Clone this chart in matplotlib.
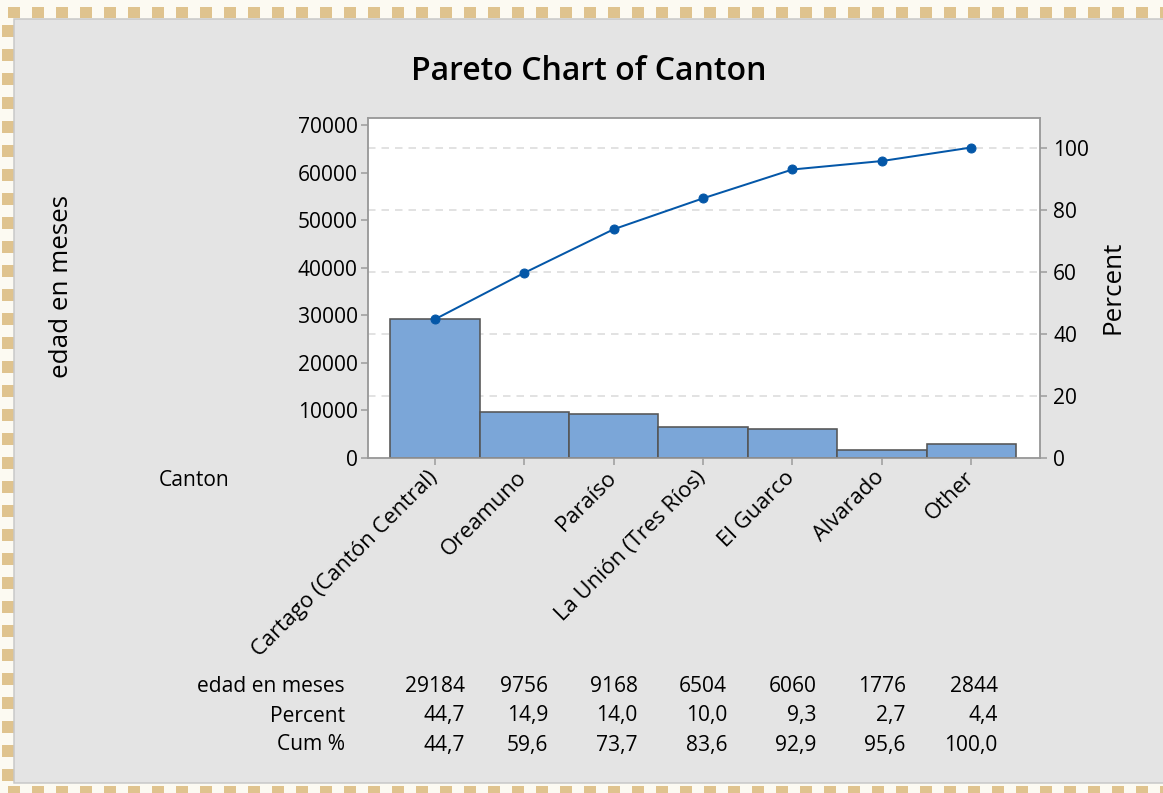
import matplotlib
matplotlib.use("Agg")
import matplotlib.pyplot as plt
from matplotlib.patches import Rectangle
import numpy as np

plt.rcParams['font.family'] = ['Open Sans', 'DejaVu Sans']

# ---- data ----
categories = ["Cartago (Cantón Central)", "Oreamuno", "Paraíso", "La Unión (Tres Ríos)",
              "El Guarco", "Alvarado", "Other"]
values = [29184, 9756, 9168, 6504, 6060, 1776, 2844]
left_ticks = [0, 10000, 20000, 30000, 40000, 50000, 60000, 70000]
right_ticks = [0, 20, 40, 60, 80, 100]
row_labels = ["edad en meses", "Percent", "Cum %"]

total = sum(values)
percents = [v / total * 100 for v in values]
cum = list(np.cumsum(percents))

W, H = 1163, 793
DPI = 72
fig = plt.figure(figsize=(W / DPI, H / DPI), dpi=DPI)
fig.patch.set_facecolor("#fcfaf2")

def fx(px):
    return px / W

def fy(py):
    return 1 - py / H

# decorative border squares
tan = "#dfc38e"
for x0 in range(8, W, 24):
    fig.add_artist(Rectangle((fx(x0), fy(18)), 12 / W, 11 / H, transform=fig.transFigure,
                             facecolor=tan, edgecolor="none", zorder=0))
    fig.add_artist(Rectangle((fx(x0), fy(793)), 12 / W, 7 / H, transform=fig.transFigure,
                             facecolor=tan, edgecolor="none", zorder=0))
for y0 in range(25, H - 10, 24):
    fig.add_artist(Rectangle((fx(2), fy(y0 + 12)), 12 / W, 12 / H, transform=fig.transFigure,
                             facecolor=tan, edgecolor="none", zorder=0))
# gray panel
fig.add_artist(Rectangle((fx(14), fy(783)), (W - 14 + 5) / W, (783 - 19) / H,
                         transform=fig.transFigure, facecolor="#e4e4e4",
                         edgecolor="#c8c8c8", linewidth=1.5, zorder=0.5))

FS = 21
ax = fig.add_axes([fx(368), fy(458), (1040 - 368) / W, (458 - 118) / H])
ax.set_zorder(2)
ax.set_facecolor("white")
x = np.arange(len(values))
ymax = 71500
ax.bar(x, values, width=1.0, color="#7ba6d8", edgecolor="#555555", linewidth=1.6, zorder=3)
ax.set_xlim(-0.75, len(values) - 1 + 0.77)
ax.set_ylim(0, ymax)
ax.set_yticks(left_ticks)
ax.set_yticklabels([str(t) for t in left_ticks])
ax.set_xticks(x)
ax.set_xticklabels(categories, rotation=45, ha="right", rotation_mode="anchor", fontsize=22)

ax2 = ax.twinx()
ax2.set_zorder(3)
ax2.patch.set_visible(False)
ax2.set_ylim(0, ymax / total * 100)
ax2.set_yticks(right_ticks)
ax2.plot(x, cum, color="#0457a8", linewidth=2.0, marker="o", markersize=9, zorder=5)
for t in right_ticks[1:]:
    ax.axhline(t / 100 * total, color="#d9d9d9", linestyle=(0, (5, 4)), linewidth=1.5, zorder=1)

for a in (ax, ax2):
    for s in a.spines.values():
        s.set_color("#9a9a9a")
        s.set_linewidth(1.5)
    a.tick_params(colors="#9a9a9a", labelcolor="black", labelsize=FS, length=7, width=1.5)
ax.tick_params(axis="x", pad=2, labelsize=22)
ax.tick_params(axis="y", pad=3)
ax2.tick_params(axis="y", pad=6)
for lbl in ax.get_xticklabels():
    lbl.set_x(lbl.get_position()[0])
ax.set_xticks(x)
ax.set_xticklabels(categories, rotation=45, ha="right", rotation_mode="anchor", fontsize=22)
import matplotlib.transforms as mtransforms
offset = mtransforms.ScaledTranslation(-8 / DPI, 0, fig.dpi_scale_trans)
for lbl in ax.get_xticklabels():
    lbl.set_transform(lbl.get_transform() + offset)

fig.text(fx(589), fy(72), "Pareto Chart of Canton", ha="center", va="center",
         fontsize=32, fontweight="semibold")
fig.text(fx(62), fy(287), "edad en meses", ha="center", va="center", rotation=90, fontsize=26)
fig.text(fx(1113), fy(287), "Percent", ha="center", va="center", rotation=90, fontsize=26)
fig.text(fx(159), fy(480), "Canton", ha="left", va="center", fontsize=21)

# table
rows = [[str(v) for v in values],
        [f"{p:.1f}".replace(".", ",") for p in percents],
        [f"{c:.1f}".replace(".", ",") for c in cum]]
row_y = [686, 716, 745]
for lab, yy in zip(row_labels, row_y):
    fig.text(fx(345), fy(yy), lab, ha="right", va="center", fontsize=FS)

fig.canvas.draw()
renderer = fig.canvas.get_renderer()
for i in range(len(values)):
    cx_disp = ax.transData.transform((x[i], 0))[0]
    widths = []
    for r in rows:
        t = fig.text(0, 0, r[i], fontsize=FS)
        widths.append(t.get_window_extent(renderer).width)
        t.remove()
    right = cx_disp + max(widths) / 2
    for r, yy in zip(rows, row_y):
        fig.text(right / W, fy(yy), r[i], ha="right", va="center", fontsize=FS)

fig.savefig("out.png", dpi=DPI, facecolor=fig.get_facecolor())
